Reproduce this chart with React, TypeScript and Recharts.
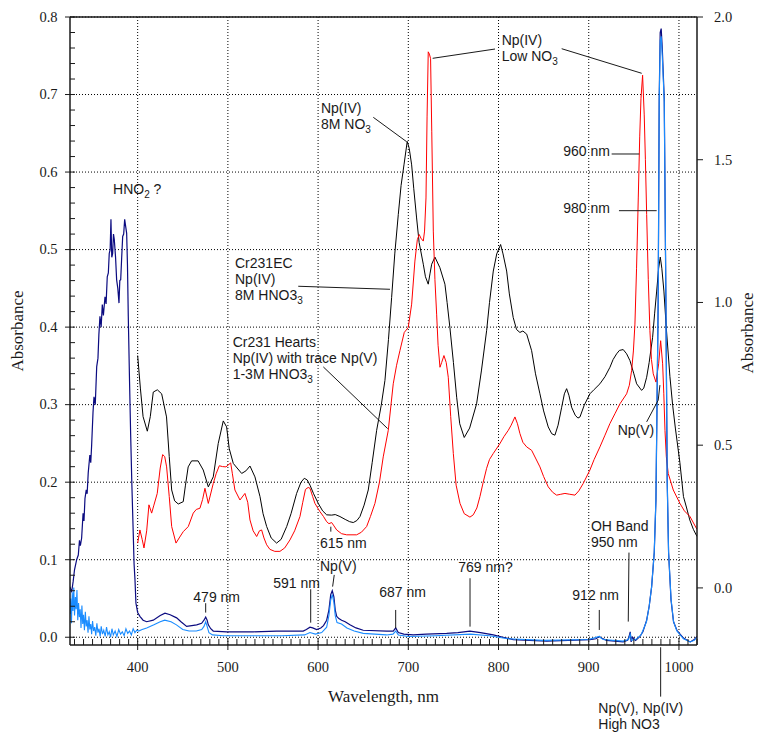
import React from 'react';
import {
  LineChart,
  Line,
  XAxis,
  YAxis,
  ReferenceLine,
  ReferenceDot,
} from 'recharts';

// spectra as [wavelength nm, absorbance]
// navy + light blue read on the left axis, black + red on the right axis
const navySpectrum: [number, number][] = [
  [325, 0.065], [326.8, 0.058], [328.5, 0.072], [330, 0.087], [332.4, 0.1], [334.2, 0.106],
  [335.5, 0.125], [336.5, 0.118], [337.9, 0.128], [339.5, 0.16], [340.5, 0.15], [341.6, 0.179],
  [343, 0.19], [344, 0.185], [345.2, 0.212], [347, 0.235], [348, 0.225], [349, 0.248],
  [350.5, 0.29], [351.6, 0.31], [353, 0.3], [354.6, 0.349], [356, 0.36], [357, 0.39],
  [358.2, 0.414], [359.5, 0.4], [360.8, 0.429], [362, 0.415], [363.8, 0.439], [365, 0.43],
  [366.3, 0.465], [367.5, 0.47], [368.5, 0.495], [369.5, 0.5], [370.4, 0.539], [371.3, 0.49],
  [372.3, 0.495], [373.2, 0.52], [374.1, 0.513], [375.5, 0.49], [376.7, 0.461], [378, 0.45],
  [379.3, 0.431], [380.2, 0.46], [381.2, 0.461], [382.3, 0.49], [383.4, 0.517], [384.5, 0.52],
  [385.6, 0.539], [386.7, 0.53], [387.8, 0.521], [388.7, 0.48], [389.6, 0.414], [391, 0.33],
  [392.2, 0.263], [393.5, 0.2], [395.1, 0.134], [396, 0.095], [397, 0.075], [398.1, 0.044],
  [400, 0.032], [402.5, 0.027], [406, 0.022], [410, 0.02], [417.3, 0.022], [425, 0.028],
  [430.3, 0.031], [436, 0.029], [443.2, 0.025], [448, 0.02], [454.3, 0.014], [460, 0.015],
  [465.4, 0.016], [470.9, 0.018], [473.5, 0.022], [475.4, 0.026], [477, 0.022], [478.3, 0.016],
  [481, 0.011], [483.8, 0.008], [498.6, 0.007], [528.1, 0.007], [554, 0.008], [583.5, 0.008],
  [587, 0.01], [591, 0.013], [594, 0.012], [598.4, 0.01], [603, 0.012], [606, 0.015],
  [609.5, 0.022], [612, 0.035], [614, 0.055], [615.7, 0.06], [617.5, 0.052], [619, 0.035],
  [620.6, 0.027], [623, 0.024], [626.1, 0.022], [630, 0.02], [635.3, 0.016], [642, 0.012],
  [650, 0.009], [676, 0.008], [683.3, 0.008], [686, 0.012], [688.9, 0.006], [695, 0.004],
  [705.5, 0.003], [720, 0.004], [742.5, 0.005], [755, 0.006], [768.3, 0.008], [780, 0.006],
  [794.2, 0.003], [805, 0], [816.3, -0.003], [853.3, -0.005], [901.3, -0.003], [908, -0.002],
  [911.6, 0.001], [914, -0.001], [919.7, -0.004], [938.2, -0.006], [943, -0.004], [944.5, 0],
  [946, 0.007], [947, -0.006], [948.5, 0], [952, -0.004], [956.7, 0.001], [960, 0.007],
  [964.2, 0.022], [967, 0.04], [969.7, 0.065], [972.6, 0.109], [974.5, 0.177], [977, 0.436],
  [978.1, 0.694], [979.2, 0.78], [980.3, 0.785], [981.5, 0.76], [983.7, 0.694], [985.5, 0.436],
  [987, 0.2], [988.5, 0.109], [991.2, 0.048], [994, 0.02], [997.7, 0.009], [1005, -0.001],
  [1012.4, -0.006], [1017, -0.003], [1020, 0.001],
];

const lightBlueSpectrum: [number, number][] = [
  [325, 0.03], [325.8, 0.05], [326.6, 0.018], [327.5, 0.058], [328.3, 0.034], [329.2, 0.064],
  [330, 0.028], [331, 0.052], [331.8, 0.036], [332.7, 0.061], [333.6, 0.022], [334.5, 0.044],
  [335.4, 0.026], [336.3, 0.036], [337.2, 0.012], [338.2, 0.041], [339.1, 0.017], [340, 0.029],
  [341, 0.009], [342, 0.033], [343, 0.014], [344, 0.022], [345, 0.006], [346, 0.027],
  [347, 0.01], [348, 0.017], [349, 0.004], [350, 0.021], [351.2, 0.008], [352.4, 0.013],
  [353.6, 0.002], [354.8, 0.018], [356, 0.006], [357.2, 0.011], [358.4, 0.001], [359.6, 0.014],
  [361, 0.004], [362.4, 0.009], [364, 0.001], [365.5, 0.013], [367, 0.003], [368.5, 0.007],
  [370, 0.0], [371.5, 0.011], [373, 0.003], [375, 0.008], [377, 0.001], [379, 0.01],
  [381, 0.004], [383, 0.007], [385, 0.002], [387, 0.011], [389, 0.005], [391, 0.008],
  [393, 0.003], [395, 0.011], [397, 0.006], [399, 0.009], [401, 0.008], [405, 0.01],
  [410, 0.012], [418, 0.016], [425, 0.02], [430, 0.022], [437, 0.02], [443, 0.016],
  [450, 0.01], [457, 0.008], [465, 0.008], [471, 0.01], [473.5, 0.014], [475.4, 0.02],
  [477, 0.014], [479, 0.006], [483, 0.003], [495, 0.002], [530, 0.002], [560, 0.002],
  [585, 0.003], [591, 0.006], [597, 0.004], [604, 0.006], [609.5, 0.013], [612, 0.028],
  [614, 0.048], [615.7, 0.055], [617.5, 0.045], [619, 0.028], [621, 0.019], [626, 0.017],
  [632, 0.012], [640, 0.008], [650, 0.005], [676, 0.003], [683, 0.004], [686, 0.008],
  [689, 0.003], [700, 0.001], [730, 0.002], [769, 0.004], [790, 0.002], [810, -0.002],
  [850, -0.004], [900, -0.003], [911.6, 0.001], [916, -0.003], [938, -0.005], [944, -0.003],
  [946, 0.004], [947.5, -0.004], [952, -0.003], [958, 0.003], [964, 0.02], [967, 0.04],
  [969.7, 0.065], [972.6, 0.11], [974.5, 0.18], [977, 0.44], [978.1, 0.69], [979.2, 0.77],
  [980.3, 0.775], [981.5, 0.75], [983.7, 0.69], [985.5, 0.44], [987, 0.2], [988.5, 0.11],
  [991.2, 0.05], [994, 0.02], [997.7, 0.008], [1005, -0.002], [1012.4, -0.006], [1017, -0.004],
  [1020, 0],
];

const blackSpectrum: [number, number][] = [
  [400, 0.814], [403, 0.7], [406, 0.6], [410.7, 0.549], [414, 0.6], [417.3, 0.686],
  [421.8, 0.694], [426.6, 0.68], [432, 0.599], [435, 0.46], [437.7, 0.343], [441, 0.305],
  [445, 0.294], [450.5, 0.302], [453, 0.36], [456, 0.424], [459.8, 0.445], [467, 0.445],
  [472.7, 0.413], [478.3, 0.354], [483.8, 0.389], [489.3, 0.506], [494.9, 0.585], [498.6, 0.564],
  [501.5, 0.488], [506, 0.436], [515.3, 0.401], [520, 0.41], [524.5, 0.427], [530, 0.389],
  [535.6, 0.32], [539, 0.26], [543, 0.215], [548, 0.175], [554, 0.157], [559, 0.17],
  [565.2, 0.215], [570, 0.26], [576.2, 0.331], [581, 0.37], [584.7, 0.384], [588, 0.378],
  [591, 0.36], [595, 0.33], [600.2, 0.296], [605, 0.27], [609.5, 0.256], [615, 0.255],
  [619, 0.257], [624.2, 0.25], [630, 0.24], [635, 0.232], [639, 0.229], [643, 0.236],
  [646.4, 0.25], [651, 0.29], [655.6, 0.343], [660, 0.44], [664.9, 0.552], [670, 0.64],
  [674.1, 0.727], [678, 0.87], [681.5, 1.017], [685, 1.17], [688.9, 1.308], [692, 1.41],
  [695.2, 1.482], [698.8, 1.564], [701, 1.54], [703.7, 1.482], [706, 1.4], [709.2, 1.296],
  [712, 1.21], [716.6, 1.134], [719, 1.09], [722.1, 1.064], [724, 1.1], [725.9, 1.134],
  [729.5, 1.159], [735, 1.122], [740.6, 1.064], [743, 1.0], [746.1, 0.912], [750, 0.79],
  [753.6, 0.668], [757, 0.575], [762, 0.527], [768, 0.56], [775.7, 0.645], [781, 0.76],
  [786.8, 0.901], [790, 1.0], [794.2, 1.11], [798, 1.17], [802.3, 1.203], [805, 1.17],
  [809, 1.11], [812, 1.03], [816.3, 0.947], [820, 0.905], [823.7, 0.895], [827, 0.9],
  [831.2, 0.889], [836.7, 0.831], [841, 0.75], [845.9, 0.68], [850, 0.62], [855.1, 0.564],
  [859, 0.54], [862.5, 0.535], [866, 0.57], [870, 0.633], [873, 0.68], [875.5, 0.698],
  [878, 0.675], [881, 0.633], [885, 0.605], [888, 0.595], [890.3, 0.599], [895, 0.64],
  [901.3, 0.68], [906, 0.695], [912.4, 0.715], [918, 0.74], [923.5, 0.773], [927, 0.8],
  [930.9, 0.82], [934, 0.832], [938.2, 0.835], [942, 0.82], [945.7, 0.796], [950, 0.75],
  [953.1, 0.715], [958.6, 0.692], [961, 0.7], [964.2, 0.738], [967, 0.79], [970.8, 0.878],
  [973, 0.96], [975.3, 1.04], [977.5, 1.12], [979.3, 1.159], [981, 1.12], [983.3, 1.04],
  [986, 0.91], [990, 0.74], [993, 0.64], [996, 0.56], [1001, 0.44], [1005, 0.32],
  [1008.5, 0.28], [1012, 0.238], [1016, 0.205], [1020, 0.18],
];

const redSpectrum: [number, number][] = [
  [400, 0.157], [402.5, 0.203], [405, 0.17], [407, 0.14], [410, 0.2], [412.5, 0.291],
  [415.5, 0.262], [418, 0.29], [421.7, 0.331], [425, 0.42], [427.7, 0.467], [430, 0.46],
  [432.1, 0.424], [435, 0.32], [437.7, 0.215], [442.5, 0.157], [446, 0.175], [450.5, 0.197],
  [456.1, 0.215], [461.6, 0.262], [465, 0.275], [469, 0.279], [472, 0.31], [474.6, 0.349],
  [478.3, 0.296], [483.8, 0.366], [487, 0.4], [490.5, 0.428], [494, 0.425], [497.9, 0.424],
  [503.1, 0.438], [505, 0.4], [507.8, 0.343], [513.4, 0.308], [518.9, 0.331], [522, 0.3],
  [524.5, 0.238], [528, 0.2], [531.9, 0.18], [535, 0.2], [537.4, 0.203], [540, 0.175],
  [543, 0.151], [546.6, 0.135], [552, 0.128], [557.7, 0.128], [563, 0.14], [568.8, 0.168],
  [574, 0.2], [579.9, 0.25], [583, 0.3], [586, 0.345], [589, 0.352], [591, 0.349],
  [594, 0.32], [596.5, 0.296], [602.1, 0.267], [606, 0.25], [609.5, 0.232], [612, 0.225],
  [615, 0.229], [617, 0.22], [620.6, 0.203], [626, 0.19], [631.7, 0.186], [642.7, 0.186],
  [648, 0.195], [653.8, 0.215], [658, 0.25], [663, 0.296], [668, 0.37], [672.2, 0.459],
  [677.8, 0.552], [683.3, 0.715], [687, 0.78], [690.7, 0.831], [695.5, 0.895], [699.9, 0.912],
  [703.7, 0.994], [707.3, 1.145], [710, 1.22], [712.1, 1.238], [714, 1.225], [716.6, 1.215],
  [718, 1.25], [719.6, 1.366], [720.8, 1.65], [722.1, 1.878], [723.4, 1.87], [724.7, 1.854],
  [726, 1.6], [727.7, 1.25], [729.5, 1.08], [731.4, 0.959], [733, 0.85], [735.1, 0.773],
  [737, 0.79], [739.5, 0.814], [742, 0.79], [744.3, 0.738], [747, 0.6], [749.9, 0.471],
  [753, 0.36], [757.3, 0.296], [762, 0.26], [768.3, 0.248], [772, 0.256], [776, 0.28],
  [779.4, 0.32], [783, 0.37], [786.8, 0.419], [790, 0.45], [794.2, 0.471], [801.6, 0.506],
  [806, 0.53], [810.8, 0.552], [814, 0.57], [818.2, 0.599], [821, 0.575], [823.7, 0.541],
  [827, 0.51], [831.2, 0.494], [836.7, 0.482], [841, 0.455], [845.9, 0.424], [850, 0.39],
  [855.1, 0.354], [860, 0.335], [864.4, 0.325], [869, 0.328], [873.6, 0.331], [879, 0.328],
  [884.7, 0.325], [889, 0.34], [893.9, 0.366], [901.3, 0.413], [906, 0.45], [912.4, 0.494],
  [918, 0.535], [923.5, 0.576], [929, 0.61], [934.6, 0.645], [942, 0.68], [945, 0.71],
  [947.5, 0.761], [949.5, 0.83], [951.2, 0.924], [953, 1.12], [954.9, 1.366], [956.5, 1.58],
  [957.9, 1.715], [959.7, 1.796], [961.5, 1.657], [962.8, 1.5], [964.2, 1.308], [966, 1.08],
  [967.8, 0.901], [969.5, 0.8], [971.5, 0.75], [974.5, 0.721], [977.5, 0.785], [979.7, 0.866],
  [981.9, 0.785], [983.2, 0.68], [984.5, 0.552], [986, 0.46], [988.1, 0.401], [993.7, 0.343],
  [1001.1, 0.296], [1006, 0.27], [1012.2, 0.25], [1020, 0.205],
];

const xMajor = [400, 500, 600, 700, 800, 900, 1000];
const xMinor = Array.from({ length: 70 }, (_, i) => 330 + i * 10);
const leftMajor = [0, 0.1, 0.2, 0.3, 0.4, 0.5, 0.6, 0.7, 0.8];
const leftMinor = Array.from({ length: 41 }, (_, i) => +(i * 0.02).toFixed(2));
const rightTicks = [0, 0.5, 1, 1.5, 2];

// annotation text, anchored at (nm, left-axis absorbance) = start of first baseline
const notes = [
  { nm: 372.7, abs: 0.5717, lines: ['HNO{2} ?'] },
  { nm: 803.5, abs: 0.7639, lines: ['Np(IV)', 'Low NO{3}'] },
  { nm: 603.2, abs: 0.6758, lines: ['Np(IV)', '8M NO{3}'] },
  { nm: 507.9, abs: 0.4759, lines: ['Cr231EC', 'Np(IV)', '8M HNO3{3}'] },
  { nm: 505.3, abs: 0.3745, lines: ['Cr231 Hearts', 'Np(IV) with trace Np(V)', '1-3M HNO3{3}'] },
  { nm: 871.8, abs: 0.6207, lines: ['960 nm'] },
  { nm: 871.8, abs: 0.5468, lines: ['980 nm'] },
  { nm: 932.1, abs: 0.2606, lines: ['Np(V)'] },
  { nm: 902.5, abs: 0.1375, lines: ['OH Band', '950 nm'] },
  { nm: 602.1, abs: 0.115, lines: ['615 nm'] },
  { nm: 602.1, abs: 0.0855, lines: ['Np(V)'] },
  { nm: 550.3, abs: 0.0632, lines: ['591 nm'] },
  { nm: 461.7, abs: 0.0459, lines: ['479 nm'] },
  { nm: 667.8, abs: 0.0516, lines: ['687 nm'] },
  { nm: 755.4, abs: 0.0838, lines: ['769 nm?'] },
  { nm: 881.8, abs: 0.0481, lines: ['912 nm'] },
  { nm: 910.6, abs: -0.0981, lines: ['Np(V), Np(IV)', 'High NO3'] },
];

const leaders: [number, number, number, number][] = [
  [727.0, 0.7467, 796.1, 0.7587],
  [870.0, 0.7591, 958.7, 0.7274],
  [661.2, 0.6706, 698.2, 0.6391],
  [578.0, 0.4527, 679.7, 0.4488],
  [605.8, 0.3487, 677.1, 0.2691],
  [925.4, 0.6233, 956.0, 0.6233],
  [933.5, 0.5502, 975.3, 0.5502],
  [964.2, 0.2778, 977.0, 0.3058],
  [977.0, 0.3058, 978.9, 0.3252],
  [944.6, 0.1092, 943.8, 0.0202],
  [614.1, 0.1426, 614.1, 0.1362],
  [617.9, 0.0804, 616.1, 0.0653],
  [591.8, 0.0619, 591.8, 0.0188],
  [475.4, 0.0439, 475.4, 0.0318],
  [686.0, 0.0352, 686.0, 0.0116],
  [768.4, 0.0761, 768.4, 0.0137],
  [911.7, 0.0352, 911.7, 0.0094],
  [979.7, -0.0129, 979.7, -0.0766],
];

const SERIF = '"Liberation Serif", "Times New Roman", serif';
const SANS = '"Liberation Sans", Arial, sans-serif';
const INK = '#1a1a1a';

const pts = (arr: [number, number][]) => arr.map(([nm, v]) => ({ nm, v }));

function richLine(s: string) {
  const parts = s.split(/(\{[^}]*\})/).filter((p) => p !== '');
  let sub = false;
  return parts.map((p, i) => {
    if (p.startsWith('{')) {
      sub = true;
      return (
        <tspan key={i} dy={4} fontSize={10}>
          {p.slice(1, -1)}
        </tspan>
      );
    }
    const el = (
      <tspan key={i} dy={sub ? -4 : 0}>
        {p}
      </tspan>
    );
    sub = false;
    return el;
  });
}

function NoteText({ x, y, lines }: { x: number; y: number; lines: string[] }) {
  return (
    <g>
      {lines.map((l, i) => (
        <text key={i} x={x} y={y + i * 16} fontFamily={SANS} fontSize={14} fill={INK}>
          {richLine(l)}
        </text>
      ))}
    </g>
  );
}

const BottomTick = (props: any) => {
  const { x, y, payload } = props;
  const v = payload.value;
  const major = v % 100 === 0;
  return (
    <g>
      {major ? (
        <line x1={x} y1={y - 7} x2={x} y2={y + 5} stroke={INK} />
      ) : (
        <line x1={x} y1={y} x2={x} y2={y - 6} stroke={INK} />
      )}
      {major && (
        <text x={x} y={y + 26.5} textAnchor="middle" fontFamily={SERIF} fontSize={14.5} fill={INK}>
          {v}
        </text>
      )}
    </g>
  );
};

const TopTick = (props: any) => {
  const { x, y, payload } = props;
  const major = payload.value % 100 === 0;
  return major ? (
    <line x1={x} y1={y - 6} x2={x} y2={y + 6} stroke={INK} />
  ) : (
    <line x1={x} y1={y} x2={x} y2={y + 6} stroke={INK} />
  );
};

const LeftTick = (props: any) => {
  const { x, y, payload } = props;
  const v = payload.value;
  const major = Math.abs(v * 10 - Math.round(v * 10)) < 1e-6;
  return (
    <g>
      {major ? (
        <line x1={x - 5} y1={y} x2={x + 5} y2={y} stroke={INK} />
      ) : (
        <line x1={x} y1={y} x2={x + 5} y2={y} stroke={INK} />
      )}
      {major && (
        <text x={x - 12.5} y={y + 4.8} textAnchor="end" fontFamily={SERIF} fontSize={14.5} fill={INK}>
          {v.toFixed(1)}
        </text>
      )}
    </g>
  );
};

const RightTick = (props: any) => {
  const { x, y, payload } = props;
  return (
    <g>
      <line x1={x} y1={y} x2={x + 6} y2={y} stroke={INK} />
      <text x={x + 17} y={y + 4.8} textAnchor="start" fontFamily={SERIF} fontSize={14.5} fill={INK}>
        {payload.value.toFixed(1)}
      </text>
    </g>
  );
};

const axisLine = { stroke: INK, strokeWidth: 1.5 };

export default function App() {
  return (
    <div style={{ position: 'absolute', left: 0, top: 0, background: '#fff' }}>
      <LineChart width={758} height={736} margin={{ top: 0, right: 0, bottom: 0, left: 0 }}>
        <XAxis
          type="number"
          dataKey="nm"
          domain={[325, 1020]}
          allowDataOverflow
          ticks={xMinor}
          interval={0}
          tick={BottomTick}
          tickLine={false}
          tickSize={0}
          tickMargin={0}
          axisLine={axisLine}
          height={91}
          label={{
            content: (p: any) => (
              <text
                x={p.viewBox.x + p.viewBox.width / 2}
                y={p.viewBox.y + 57}
                textAnchor="middle"
                fontFamily={SERIF}
                fontSize={17}
                fill={INK}
              >
                Wavelength, nm
              </text>
            ),
          }}
        />
        <XAxis
          xAxisId="top"
          orientation="top"
          type="number"
          domain={[325, 1020]}
          allowDataOverflow
          ticks={xMinor}
          interval={0}
          tick={TopTick}
          tickLine={false}
          tickSize={0}
          tickMargin={0}
          axisLine={axisLine}
          height={17}
        />
        <YAxis
          yAxisId="left"
          type="number"
          domain={[-0.01, 0.8]}
          allowDataOverflow
          ticks={leftMinor}
          interval={0}
          tick={LeftTick}
          tickLine={false}
          tickSize={0}
          tickMargin={0}
          axisLine={axisLine}
          width={70}
          label={{
            content: (p: any) => {
              const cx = p.viewBox.x + 23;
              const cy = p.viewBox.y + p.viewBox.height / 2;
              return (
                <text
                  x={cx}
                  y={cy}
                  transform={`rotate(-90 ${cx} ${cy})`}
                  textAnchor="middle"
                  fontFamily={SERIF}
                  fontSize={17}
                  fill={INK}
                >
                  Absorbance
                </text>
              );
            },
          }}
        />
        <YAxis
          yAxisId="right"
          orientation="right"
          type="number"
          domain={[-0.2, 2]}
          allowDataOverflow
          ticks={rightTicks}
          interval={0}
          tick={RightTick}
          tickLine={false}
          tickSize={0}
          tickMargin={0}
          axisLine={axisLine}
          width={61}
          label={{
            content: (p: any) => {
              const cx = p.viewBox.x + 56;
              const cy = p.viewBox.y + p.viewBox.height / 2 + 2;
              return (
                <text
                  x={cx}
                  y={cy}
                  transform={`rotate(-90 ${cx} ${cy})`}
                  textAnchor="middle"
                  fontFamily={SERIF}
                  fontSize={17}
                  fill={INK}
                >
                  Absorbance
                </text>
              );
            },
          }}
        />

        {xMajor.map((v) => (
          <ReferenceLine key={`gx${v}`} x={v} yAxisId="left" stroke="#000" strokeDasharray="1 2" />
        ))}
        {leftMajor.map((v) => (
          <ReferenceLine key={`gy${v}`} y={v} yAxisId="left" stroke="#000" strokeDasharray="1 2" />
        ))}

        <Line
          yAxisId="right"
          data={pts(blackSpectrum)}
          dataKey="v"
          type="linear"
          stroke="#000000"
          strokeWidth={1}
          dot={false}
          isAnimationActive={false}
        />
        <Line
          yAxisId="right"
          data={pts(redSpectrum)}
          dataKey="v"
          type="linear"
          stroke="#ff0000"
          strokeWidth={1}
          dot={false}
          isAnimationActive={false}
        />
        <Line
          yAxisId="left"
          data={pts(navySpectrum)}
          dataKey="v"
          type="linear"
          stroke="#0b0b80"
          strokeWidth={1.2}
          dot={false}
          isAnimationActive={false}
        />
        <Line
          yAxisId="left"
          data={pts(lightBlueSpectrum)}
          dataKey="v"
          type="linear"
          stroke="#1a8cff"
          strokeWidth={1.1}
          dot={false}
          isAnimationActive={false}
        />

        {leaders.map(([x1, y1, x2, y2], i) => (
          <ReferenceLine
            key={`ld${i}`}
            yAxisId="left"
            segment={[
              { x: x1, y: y1 },
              { x: x2, y: y2 },
            ]}
            stroke={INK}
            strokeWidth={1}
            ifOverflow="visible"
          />
        ))}
        {notes.map((n, i) => (
          <ReferenceDot
            key={`nt${i}`}
            yAxisId="left"
            x={n.nm}
            y={n.abs}
            ifOverflow="visible"
            shape={(p: any) => <NoteText x={p.cx} y={p.cy} lines={n.lines} />}
          />
        ))}
      </LineChart>
    </div>
  );
}
